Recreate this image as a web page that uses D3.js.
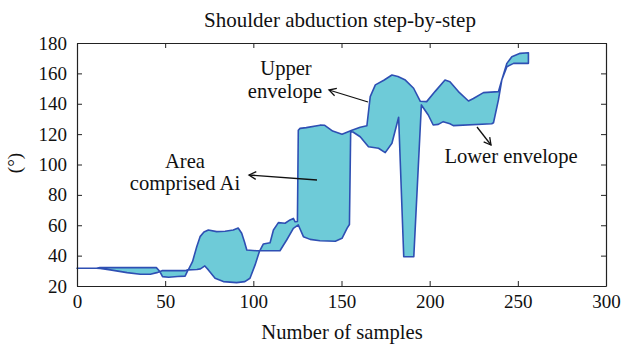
<!DOCTYPE html>
<html>
<head>
<meta charset="utf-8">
<script src="https://cdn.jsdelivr.net/npm/d3@7"></script>
<style>
  body { margin: 0; background: #fff; }
  svg text { font-family: "Liberation Serif", "Times New Roman", serif; fill: #111; }
</style>
</head>
<body>
<svg id="chart" width="622" height="348"></svg>
<script>
// upper envelope (sample index, degrees)
const upperSamples = [0, 11, 13, 45, 47, 48.5, 52, 57, 61.3, 63, 68, 70, 72.5, 74.5, 78.3, 83, 90.5, 95.2, 98.1, 101, 103.4, 105.7, 109.5, 111.4, 114.2, 118, 120.8, 122.7, 123.7, 125, 125.5, 126.5, 130, 137.8, 140.5, 145, 150.3, 155.9, 160.6, 164.4, 166.3, 169.2, 174, 178.6, 182, 186.2, 190.9, 194.7, 198.3, 203, 208.7, 211.5, 216.3, 222, 224.8, 230.5, 239, 240.9, 243.8, 246.6, 251.3, 256];
const upperDeg = [31.7, 31.7, 32.1, 32.1, 29.5, 26.2, 25.8, 26.3, 26.5, 30.6, 30.9, 31.3, 33.2, 30.6, 25.1, 22.9, 22.2, 22.9, 25.1, 33.9, 42.6, 47.7, 48.5, 56.9, 61.7, 61.3, 63.5, 64.5, 62.3, 62.5, 122.5, 123.8, 124.3, 125.9, 125.8, 122, 119.9, 122.5, 124.5, 125.5, 144.7, 152.4, 155.5, 158.9, 158, 155.6, 150.2, 141.6, 141.4, 148, 155.6, 154.5, 148, 141.8, 143.5, 147.3, 148, 155.6, 166.6, 171, 173.2, 173.6];

// lower envelope
const lowerSamples = [0, 11, 13.2, 18.9, 28.4, 35.9, 41.6, 45.3, 48.2, 55, 61.3, 63.2, 65.5, 67.9, 69.8, 72, 74.5, 79.2, 84, 88.6, 91.4, 93.4, 95, 96.3, 101.9, 115.1, 118.9, 122.7, 125.5, 128.4, 132.2, 137.8, 146.5, 150.3, 153.2, 154.5, 155.2, 156.5, 160.6, 165.3, 171, 174.8, 178.6, 182.4, 185.3, 191, 195.3, 199.2, 202, 204.9, 207.7, 211.5, 213.4, 235.2, 236.2, 239, 240.9, 243.8, 247.6, 256];
const lowerDeg = [31.7, 31.7, 31.5, 30.6, 28.8, 27.7, 27.7, 28.8, 30.1, 30.2, 30.1, 30.8, 36, 45.9, 52.5, 55.5, 56.9, 55.8, 56, 56.9, 58.2, 54.7, 49, 43.7, 43.2, 43.2, 50.3, 58, 60.2, 52.5, 50.7, 49.8, 49.5, 51.4, 58.1, 60.5, 121.6, 121.4, 118.3, 111.7, 110.7, 107.8, 114, 131.1, 39.3, 39.3, 139.2, 132.6, 126, 126.4, 128.2, 126.8, 125.6, 126.8, 127.5, 142.5, 155.6, 164.4, 166.6, 166.6];

const xTicks = [0, 50, 100, 150, 200, 250, 300];
const yTicks = [20, 40, 60, 80, 100, 120, 140, 160, 180];

const serif = '"Liberation Serif", "Times New Roman", serif';
const margin = { top: 43, right: 16, bottom: 62, left: 77 };
const width = 622 - margin.left - margin.right;
const height = 348 - margin.top - margin.bottom;

const svg = d3.select('#chart');
const g = svg.append('g').attr('transform', `translate(${margin.left},${margin.top})`);

const x = d3.scaleLinear().domain([0, 300]).range([0, width]);
const y = d3.scaleLinear().domain([20, 180]).range([height, 0]);

// area comprised between the envelopes: upper forward, lower back
const upper = upperSamples.map((s, i) => [s, upperDeg[i]]);
const lower = lowerSamples.map((s, i) => [s, lowerDeg[i]]).reverse();

const ring = d3.line().x(d => x(d[0])).y(d => y(d[1]));

g.append('path')
  .attr('d', ring(upper.concat(lower)) + 'Z')
  .attr('fill', '#6ecbd8')
  .attr('stroke', '#2e4fb3')
  .attr('stroke-width', 1.6)
  .attr('stroke-linejoin', 'round');

// axes, ticks pointing inward like the matlab box
g.append('g').attr('transform', `translate(0,${height})`)
  .call(d3.axisBottom(x).tickValues(xTicks).tickSizeInner(-5).tickSizeOuter(0).tickPadding(9));
g.append('g')
  .call(d3.axisLeft(y).tickValues(yTicks).tickSizeInner(-5).tickSizeOuter(0).tickPadding(10));
g.append('g')
  .call(d3.axisTop(x).tickValues(xTicks).tickSizeInner(-5).tickSizeOuter(0).tickFormat(''));
g.append('g').attr('transform', `translate(${width},0)`)
  .call(d3.axisRight(y).tickValues(yTicks).tickSizeInner(-5).tickSizeOuter(0).tickFormat(''));

g.selectAll('.domain').attr('stroke', '#222').attr('stroke-width', 1.2);
g.selectAll('.tick line').attr('stroke', '#222');
g.selectAll('g').attr('font-family', serif).attr('font-size', 19);
g.selectAll('.tick text').attr('fill', '#111');

// titles
svg.append('text')
  .attr('x', 340).attr('y', 27)
  .attr('text-anchor', 'middle')
  .attr('font-family', serif).attr('font-size', 21)
  .text('Shoulder abduction step-by-step');

svg.append('text')
  .attr('x', 342).attr('y', 339)
  .attr('text-anchor', 'middle')
  .attr('font-family', serif).attr('font-size', 20.6)
  .text('Number of samples');

svg.append('text')
  .attr('transform', `translate(21,${163}) rotate(-90)`)
  .attr('text-anchor', 'middle')
  .attr('font-family', serif).attr('font-size', 19)
  .text('(°)');

// annotations
const notes = svg.append('g').attr('font-family', serif).attr('font-size', 20.6);
notes.append('text').attr('x', 185).attr('y', 168).attr('text-anchor', 'middle').text('Area');
notes.append('text').attr('x', 185).attr('y', 190).attr('text-anchor', 'middle').text('comprised Ai');
notes.append('text').attr('x', 286).attr('y', 75).attr('text-anchor', 'middle').text('Upper');
notes.append('text').attr('x', 285).attr('y', 98).attr('text-anchor', 'middle').text('envelope');
notes.append('text').attr('x', 511).attr('y', 163).attr('text-anchor', 'middle').text('Lower envelope');

const arrows = [
  { from: [317, 180], to: [249, 175] },
  { from: [368, 102], to: [329, 90] },
  { from: [477, 127], to: [491, 145] }
];
arrows.forEach(a => {
  const ang = Math.atan2(a.to[1] - a.from[1], a.to[0] - a.from[0]);
  const h = 8, spread = 0.5;
  svg.append('line')
    .attr('x1', a.from[0]).attr('y1', a.from[1])
    .attr('x2', a.to[0]).attr('y2', a.to[1])
    .attr('stroke', '#111').attr('stroke-width', 1.3);
  svg.append('path')
    .attr('d', d3.line()([
      [a.to[0] - h * Math.cos(ang - spread), a.to[1] - h * Math.sin(ang - spread)],
      a.to,
      [a.to[0] - h * Math.cos(ang + spread), a.to[1] - h * Math.sin(ang + spread)]
    ]))
    .attr('fill', 'none').attr('stroke', '#111').attr('stroke-width', 1.3);
});
</script>
</body>
</html>
